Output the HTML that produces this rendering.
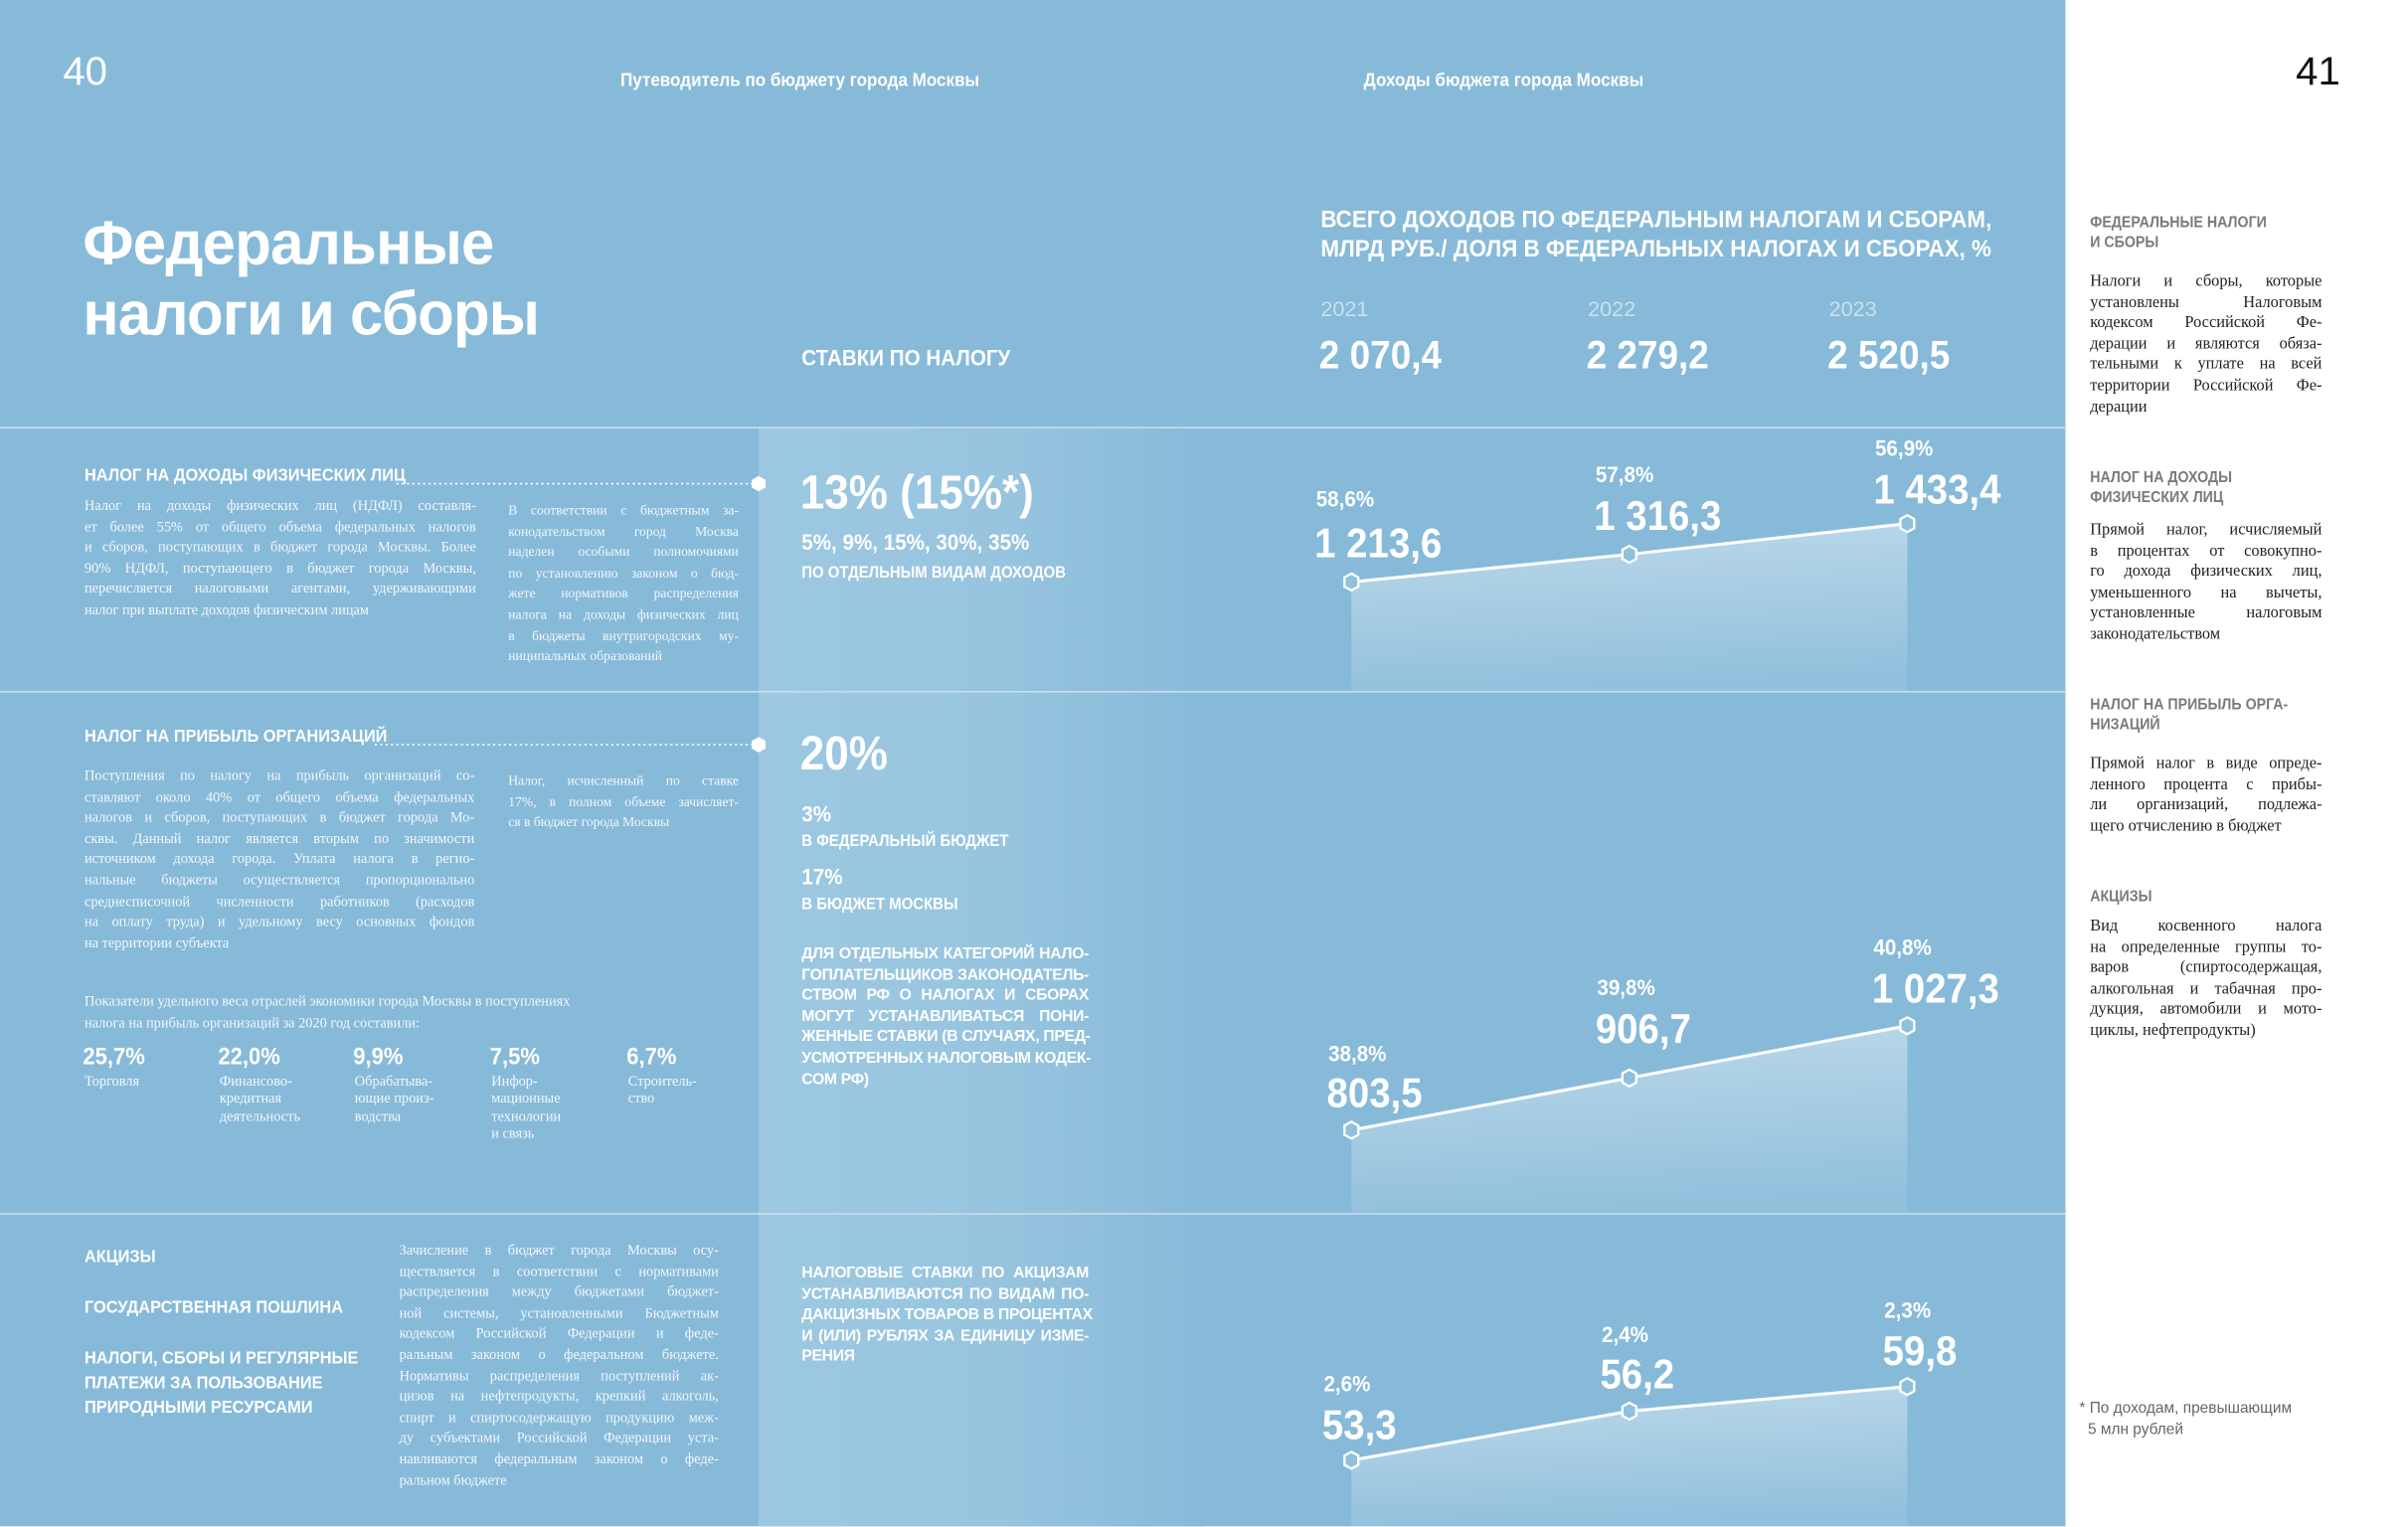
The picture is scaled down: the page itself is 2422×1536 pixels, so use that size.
<!DOCTYPE html>
<html><head><meta charset="utf-8">
<style>
html,body{margin:0;padding:0;width:2422px;height:1536px;overflow:hidden;background:#fff}
#w{position:absolute;left:0;top:0;width:1568px;height:994px;transform:scale(1.5446);transform-origin:0 0;font-family:"Liberation Sans Narrow","Liberation Sans",sans-serif;color:#fff}
.a{position:absolute;white-space:nowrap;line-height:1.2}
.b{font-weight:bold;transform:scaleX(0.92);transform-origin:0 0}
.p{position:absolute;font-family:"Liberation Serif",serif;font-size:9.3px;line-height:13.6px;color:#f2f7fb}
.p span{display:block;text-align:justify;text-align-last:justify;white-space:nowrap;overflow:visible}
.p span.e{text-align-last:left}
.u{position:absolute;font-weight:bold;font-size:10.2px;line-height:13.6px}
.u span{display:block;text-align:justify;text-align-last:justify;white-space:nowrap;letter-spacing:-0.2px}
.u span.e{text-align-last:left}
.r{position:absolute;left:1361px;width:151px;font-family:"Liberation Serif",serif;font-size:10.6px;line-height:13.6px;color:#222}
.r span{display:block;text-align:justify;text-align-last:justify;white-space:nowrap}
.r span.e{text-align-last:left}
.h{position:absolute;left:1361px;font-weight:bold;font-size:10px;line-height:13.4px;color:#7a7a7a;transform:scaleX(0.92);transform-origin:0 0}
.hl{position:absolute;left:0;width:1345px;height:1.5px;background:#c8e0ee}
</style></head><body>
<div id="w">
<div style="position:absolute;left:0;top:0;width:1345px;height:994px;background:#87bad9"></div>
<div style="position:absolute;left:494px;top:279px;width:290px;height:715px;background:linear-gradient(90deg,#9dc8e1 0%,#97c4df 55%,#87bad9 100%)"></div>
<div style="position:absolute;left:1345px;top:0;width:223px;height:994px;background:#fff"></div>

<svg style="position:absolute;left:0;top:0" width="1345" height="994">
<defs><linearGradient id="g" x1="0" y1="0" x2="0.15" y2="1"><stop offset="0" stop-color="#fff" stop-opacity="0.45"/><stop offset="1" stop-color="#fff" stop-opacity="0.1"/></linearGradient></defs>
<polygon points="880,379 1061,361 1242,341 1242,450 880,450" fill="url(#g)"/>
<polyline points="880,379 1061,361 1242,341" fill="none" stroke="#fff" stroke-width="2"/>
<polygon points="880,736 1061,702 1242,668 1242,790 880,790" fill="url(#g)"/>
<polyline points="880,736 1061,702 1242,668" fill="none" stroke="#fff" stroke-width="2"/>
<polygon points="880,951 1061,919 1242,903 1242,994 880,994" fill="url(#g)"/>
<polyline points="880,951 1061,919 1242,903" fill="none" stroke="#fff" stroke-width="2"/>
<g fill="#8fc0dc" stroke="#fff" stroke-width="1.5">
<polygon points="880,373.5 884.5,376 884.5,382 880,384.5 875.5,382 875.5,376"/>
<polygon points="1061,355.5 1065.5,358 1065.5,364 1061,366.5 1056.5,364 1056.5,358"/>
<polygon points="1242,335.5 1246.5,338 1246.5,344 1242,346.5 1237.5,344 1237.5,338"/>
<polygon points="880,730.5 884.5,733 884.5,739 880,741.5 875.5,739 875.5,733"/>
<polygon points="1061,696.5 1065.5,699 1065.5,705 1061,707.5 1056.5,705 1056.5,699"/>
<polygon points="1242,662.5 1246.5,665 1246.5,671 1242,673.5 1237.5,671 1237.5,665"/>
<polygon points="880,945.5 884.5,948 884.5,954 880,956.5 875.5,954 875.5,948"/>
<polygon points="1061,913.5 1065.5,916 1065.5,922 1061,924.5 1056.5,922 1056.5,916"/>
<polygon points="1242,897.5 1246.5,900 1246.5,906 1242,908.5 1237.5,906 1237.5,900"/>
</g>
<line x1="258" y1="315" x2="490" y2="315" stroke="#fff" stroke-width="1" stroke-dasharray="1.5 2"/>
<line x1="244" y1="485" x2="490" y2="485" stroke="#fff" stroke-width="1" stroke-dasharray="1.5 2"/>
<polygon points="494,310 498.5,312.5 498.5,317.5 494,320 489.5,317.5 489.5,312.5" fill="#fff"/>
<polygon points="494,480 498.5,482.5 498.5,487.5 494,490 489.5,487.5 489.5,482.5" fill="#fff"/>
</svg>
<div class="hl" style="top:277.5px"></div>
<div class="hl" style="top:449.5px"></div>
<div class="hl" style="top:789.5px"></div>

<div class="a" style="left:41px;top:31px;font-size:26px;font-family:'Liberation Sans',sans-serif;font-weight:300">40</div>
<div class="a" style="left:1495px;top:31px;font-size:26px;color:#111">41</div>
<div class="a b" style="left:404px;top:45px;font-size:12px">Путеводитель по бюджету города Москвы</div>
<div class="a b" style="left:888px;top:45px;font-size:12px">Доходы бюджета города Москвы</div>
<div class="a b" style="left:54px;top:136px;font-size:40px;line-height:46px;font-family:'Liberation Sans',sans-serif;letter-spacing:-0.5px;transform:scaleX(0.97)">Федеральные<br>налоги и сборы</div>
<div class="a b" style="left:860px;top:135px;font-size:15.5px;line-height:18.5px;transform:scaleX(0.935)">ВСЕГО ДОХОДОВ ПО ФЕДЕРАЛЬНЫМ НАЛОГАМ И СБОРАМ,<br>МЛРД РУБ./ ДОЛЯ В ФЕДЕРАЛЬНЫХ НАЛОГАХ И СБОРАХ, %</div>
<div class="a" style="left:860px;top:193px;font-size:14px;color:#c9e0ee">2021</div>
<div class="a" style="left:1034px;top:193px;font-size:14px;color:#c9e0ee">2022</div>
<div class="a" style="left:1191px;top:193px;font-size:14px;color:#c9e0ee">2023</div>
<div class="a b" style="left:859px;top:216px;font-size:26px">2 070,4</div>
<div class="a b" style="left:1033px;top:216px;font-size:26px">2 279,2</div>
<div class="a b" style="left:1190px;top:216px;font-size:26px">2 520,5</div>
<div class="a b" style="left:522px;top:226px;font-size:14.5px">СТАВКИ ПО НАЛОГУ</div>

<!-- section 1 -->
<div class="a b" style="left:55px;top:304px;font-size:11.5px">НАЛОГ НА ДОХОДЫ ФИЗИЧЕСКИХ ЛИЦ</div>
<div class="p" style="left:55px;top:324px;width:255px"><span>Налог на доходы физических лиц (НДФЛ) составля-</span><span>ет более 55% от общего объема федеральных налогов</span><span>и сборов, поступающих в бюджет города Москвы. Более</span><span>90% НДФЛ, поступающего в бюджет города Москвы,</span><span>перечисляется налоговыми агентами, удерживающими</span><span class="e">налог при выплате доходов физическим лицам</span></div>
<div class="p" style="left:331px;top:326px;width:150px;font-size:8.8px"><span>В соответствии с бюджетным за-</span><span>конодательством город Москва</span><span>наделен особыми полномочиями</span><span>по установлению законом о бюд-</span><span>жете нормативов распределения</span><span>налога на доходы физических лиц</span><span>в бюджеты внутригородских му-</span><span class="e">ниципальных образований</span></div>
<div class="a b" style="left:521px;top:302px;font-size:31px">13% (15%*)</div>
<div class="a b" style="left:522px;top:346px;font-size:14.5px">5%, 9%, 15%, 30%, 35%</div>
<div class="a b" style="left:522px;top:367px;font-size:10.5px">ПО ОТДЕЛЬНЫМ ВИДАМ ДОХОДОВ</div>
<div class="a b" style="left:857px;top:318px;font-size:14.5px">58,6%</div>
<div class="a b" style="left:856px;top:338px;font-size:27px">1 213,6</div>
<div class="a b" style="left:1039px;top:302px;font-size:14.5px">57,8%</div>
<div class="a b" style="left:1038px;top:320px;font-size:27px">1 316,3</div>
<div class="a b" style="left:1221px;top:285px;font-size:14.5px">56,9%</div>
<div class="a b" style="left:1220px;top:303px;font-size:27px">1 433,4</div>

<!-- section 2 -->
<div class="a b" style="left:55px;top:474px;font-size:11.5px">НАЛОГ НА ПРИБЫЛЬ ОРГАНИЗАЦИЙ</div>
<div class="p" style="left:55px;top:500px;width:254px"><span>Поступления по налогу на прибыль организаций со-</span><span>ставляют около 40% от общего объема федеральных</span><span>налогов и сборов, поступающих в бюджет города Мо-</span><span>сквы. Данный налог является вторым по значимости</span><span>источником дохода города. Уплата налога в регио-</span><span>нальные бюджеты осуществляется пропорционально</span><span>среднесписочной численности работников (расходов</span><span>на оплату труда) и удельному весу основных фондов</span><span class="e">на территории субъекта</span></div>
<div class="p" style="left:331px;top:502px;width:150px;font-size:8.8px"><span>Налог, исчисленный по ставке</span><span>17%, в полном объеме зачисляет-</span><span class="e">ся в бюджет города Москвы</span></div>
<div class="p" style="left:55px;top:647px;width:380px"><span class="e">Показатели удельного веса отраслей экономики города Москвы в поступлениях</span><span class="e">налога на прибыль организаций за 2020 год составили:</span></div>
<div class="a b" style="left:54px;top:680px;font-size:15.5px">25,7%</div>
<div class="a b" style="left:142px;top:680px;font-size:15.5px">22,0%</div>
<div class="a b" style="left:230px;top:680px;font-size:15.5px">9,9%</div>
<div class="a b" style="left:319px;top:680px;font-size:15.5px">7,5%</div>
<div class="a b" style="left:408px;top:680px;font-size:15.5px">6,7%</div>
<div class="p" style="left:55px;top:700px;font-size:9.3px;line-height:11.3px">Торговля</div>
<div class="p" style="left:143px;top:700px;font-size:9.3px;line-height:11.3px">Финансово-<br>кредитная<br>деятельность</div>
<div class="p" style="left:231px;top:700px;font-size:9.3px;line-height:11.3px">Обрабатыва-<br>ющие произ-<br>водства</div>
<div class="p" style="left:320px;top:700px;font-size:9.3px;line-height:11.3px">Инфор-<br>мационные<br>технологии<br>и связь</div>
<div class="p" style="left:409px;top:700px;font-size:9.3px;line-height:11.3px">Строитель-<br>ство</div>

<div class="a b" style="left:521px;top:472px;font-size:31px">20%</div>
<div class="a b" style="left:522px;top:523px;font-size:14.5px">3%</div>
<div class="a b" style="left:522px;top:542px;font-size:10.5px">В ФЕДЕРАЛЬНЫЙ БЮДЖЕТ</div>
<div class="a b" style="left:522px;top:564px;font-size:14.5px">17%</div>
<div class="a b" style="left:522px;top:583px;font-size:10.5px">В БЮДЖЕТ МОСКВЫ</div>
<div class="u" style="left:522px;top:615px;width:187px"><span>ДЛЯ ОТДЕЛЬНЫХ КАТЕГОРИЙ НАЛО-</span><span>ГОПЛАТЕЛЬЩИКОВ ЗАКОНОДАТЕЛЬ-</span><span>СТВОМ РФ О НАЛОГАХ И СБОРАХ</span><span>МОГУТ УСТАНАВЛИВАТЬСЯ ПОНИ-</span><span>ЖЕННЫЕ СТАВКИ (В СЛУЧАЯХ, ПРЕД-</span><span>УСМОТРЕННЫХ НАЛОГОВЫМ КОДЕК-</span><span class="e">СОМ РФ)</span></div>
<div class="a b" style="left:865px;top:679px;font-size:14.5px">38,8%</div>
<div class="a b" style="left:864px;top:696px;font-size:27px">803,5</div>
<div class="a b" style="left:1040px;top:636px;font-size:14.5px">39,8%</div>
<div class="a b" style="left:1039px;top:654px;font-size:27px">906,7</div>
<div class="a b" style="left:1220px;top:610px;font-size:14.5px">40,8%</div>
<div class="a b" style="left:1219px;top:628px;font-size:27px">1 027,3</div>

<!-- section 3 -->
<div class="a b" style="left:55px;top:813px;font-size:11.5px">АКЦИЗЫ</div>
<div class="a b" style="left:55px;top:846px;font-size:11.5px">ГОСУДАРСТВЕННАЯ ПОШЛИНА</div>
<div class="a b" style="left:55px;top:877px;font-size:11.5px;line-height:16px">НАЛОГИ, СБОРЫ И РЕГУЛЯРНЫЕ<br>ПЛАТЕЖИ ЗА ПОЛЬЗОВАНИЕ<br>ПРИРОДНЫМИ РЕСУРСАМИ</div>
<div class="p" style="left:260px;top:809px;width:208px"><span>Зачисление в бюджет города Москвы осу-</span><span>ществляется в соответствии с нормативами</span><span>распределения между бюджетами бюджет-</span><span>ной системы, установленными Бюджетным</span><span>кодексом Российской Федерации и феде-</span><span>ральным законом о федеральном бюджете.</span><span>Нормативы распределения поступлений ак-</span><span>цизов на нефтепродукты, крепкий алкоголь,</span><span>спирт и спиртосодержащую продукцию меж-</span><span>ду субъектами Российской Федерации уста-</span><span>навливаются федеральным законом о феде-</span><span class="e">ральном бюджете</span></div>
<div class="u" style="left:522px;top:823px;width:187px"><span>НАЛОГОВЫЕ СТАВКИ ПО АКЦИЗАМ</span><span>УСТАНАВЛИВАЮТСЯ ПО ВИДАМ ПО-</span><span>ДАКЦИЗНЫХ ТОВАРОВ В ПРОЦЕНТАХ</span><span>И (ИЛИ) РУБЛЯХ ЗА ЕДИНИЦУ ИЗМЕ-</span><span class="e">РЕНИЯ</span></div>
<div class="a b" style="left:862px;top:894px;font-size:14.5px">2,6%</div>
<div class="a b" style="left:861px;top:912px;font-size:27px">53,3</div>
<div class="a b" style="left:1043px;top:862px;font-size:14.5px">2,4%</div>
<div class="a b" style="left:1042px;top:879px;font-size:27px">56,2</div>
<div class="a b" style="left:1227px;top:846px;font-size:14.5px">2,3%</div>
<div class="a b" style="left:1226px;top:864px;font-size:27px">59,8</div>

<!-- right panel -->
<div class="h" style="top:139px">ФЕДЕРАЛЬНЫЕ НАЛОГИ<br>И СБОРЫ</div>
<div class="r" style="top:177px"><span>Налоги и сборы, которые</span><span>установлены Налоговым</span><span>кодексом Российской Фе-</span><span>дерации и являются обяза-</span><span>тельными к уплате на всей</span><span>территории Российской Фе-</span><span class="e">дерации</span></div>
<div class="h" style="top:305px">НАЛОГ НА ДОХОДЫ<br>ФИЗИЧЕСКИХ ЛИЦ</div>
<div class="r" style="top:339px"><span>Прямой налог, исчисляемый</span><span>в процентах от совокупно-</span><span>го дохода физических лиц,</span><span>уменьшенного на вычеты,</span><span>установленные налоговым</span><span class="e">законодательством</span></div>
<div class="h" style="top:453px">НАЛОГ НА ПРИБЫЛЬ ОРГА-<br>НИЗАЦИЙ</div>
<div class="r" style="top:491px"><span>Прямой налог в виде опреде-</span><span>ленного процента с прибы-</span><span>ли организаций, подлежа-</span><span class="e">щего отчислению в бюджет</span></div>
<div class="h" style="top:578px">АКЦИЗЫ</div>
<div class="r" style="top:597px"><span>Вид косвенного налога</span><span>на определенные группы то-</span><span>варов (спиртосодержащая,</span><span>алкогольная и табачная про-</span><span>дукция, автомобили и мото-</span><span class="e">циклы, нефтепродукты)</span></div>
<div class="a" style="left:1354px;top:911px;font-size:10px;line-height:14px;color:#666">* По доходам, превышающим<br>&nbsp;&nbsp;5 млн рублей</div>
</div>
</body></html>
